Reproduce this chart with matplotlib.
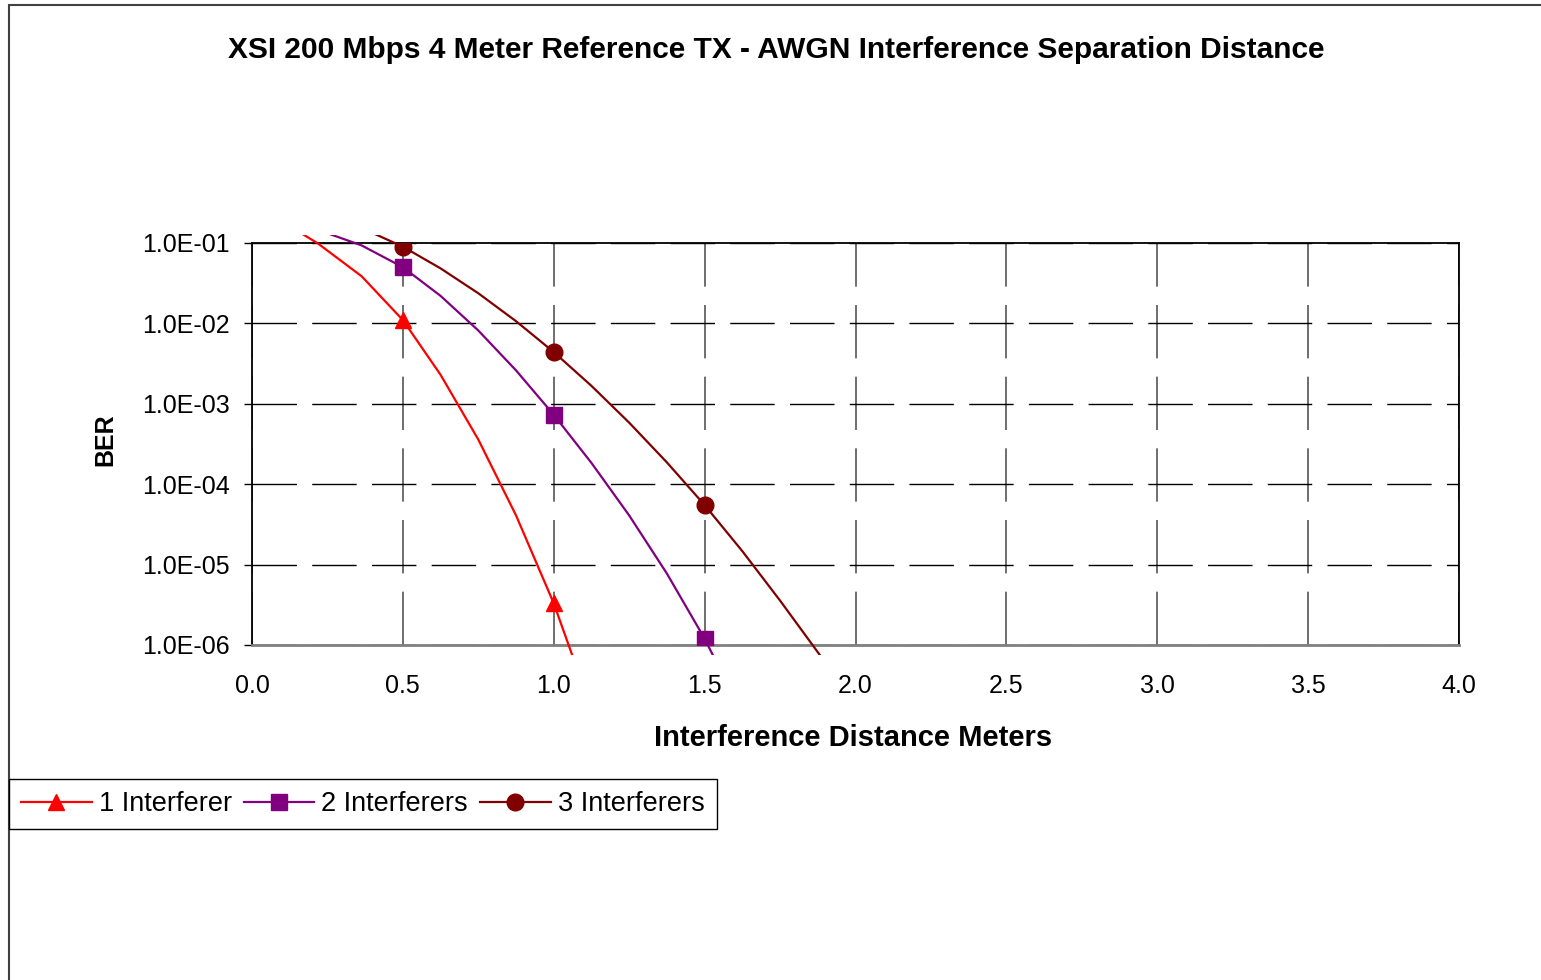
import numpy as np
import matplotlib
matplotlib.use("Agg")
import matplotlib.pyplot as plt
from matplotlib.patches import Rectangle
from matplotlib.lines import Line2D
from matplotlib.ticker import FixedLocator, FuncFormatter

# BER vs interferer separation distance
dist_1 = [0.0, 0.5, 1.0, 1.5]
ber_1 = [3.2e-1, 1.1e-2, 3.3e-6, 4.5e-12]

dist_2 = [0.0, 0.5, 1.0, 1.5, 2.0]
ber_2 = [2.5e-1, 5.0e-2, 7.3e-4, 1.2e-6, 1.0e-10]

dist_3 = [0.0, 0.5, 1.0, 1.5, 2.0, 2.5]
ber_3 = [4.4e-1, 9.0e-2, 4.4e-3, 5.5e-5, 1.8e-7, 3.0e-10]

series_labels = ["1 Interferer", "2 Interferers", "3 Interferers"]
x_ticks = [0.0, 0.5, 1.0, 1.5, 2.0, 2.5, 3.0, 3.5, 4.0]
y_ticks = [1e-6, 1e-5, 1e-4, 1e-3, 1e-2, 1e-1]

colors = ["#FF0000", "#800080", "#800000"]
markers = ["^", "s", "o"]

plt.rcParams['font.family'] = ['Liberation Sans', 'DejaVu Sans']


def excel_smooth(xs, ys, n=5):
    # Catmull-Rom through the points in (x, log y) space, like Excel's "smoothed line"
    lx = np.asarray(xs, float)
    ly = np.log10(np.asarray(ys, float))
    px = np.concatenate([[lx[0]], lx, [lx[-1]]])
    py = np.concatenate([[ly[0]], ly, [ly[-1]]])
    t = np.linspace(0, 1, n)
    ox, oy = [], []
    for i in range(1, len(px) - 2):
        for arr, out in ((px, ox), (py, oy)):
            p0, p1, p2, p3 = arr[i - 1:i + 3]
            v = 0.5 * (2 * p1 + (-p0 + p2) * t + (2 * p0 - 5 * p1 + 4 * p2 - p3) * t ** 2
                       + (-p0 + 3 * p1 - 3 * p2 + p3) * t ** 3)
            out.extend(v if i == 1 else v[1:])
    return np.array(ox), 10 ** np.array(oy)


fig = plt.figure(figsize=(15.41, 9.80), dpi=100, facecolor='w')
ax = fig.add_axes([252 / 1541, 1 - 645 / 980, 1207 / 1541, 402 / 980])

# line clip region a little larger than the plot area (Excel lets lines spill)
clip = Rectangle((0, -10 / 402), 1, 1 + 18 / 402, transform=ax.transAxes,
                 facecolor='none', edgecolor='none')
ax.add_patch(clip)

handles = []
for xs, ys, c, m, lab in zip([dist_1, dist_2, dist_3], [ber_1, ber_2, ber_3],
                             colors, markers, series_labels):
    sx, sy = excel_smooth(xs, ys)
    ln, = ax.plot(sx, sy, color=c, lw=1.6, zorder=3)
    ln.set_clip_path(clip)
    ax.plot(xs, ys, ls='none', marker=m, ms=12, color=c, mec=c, zorder=4)
    handles.append(Line2D([], [], color=c, lw=1.6, marker=m, ms=12, label=lab))

ax.set_yscale('log')
ax.set_xlim(0, 4.0)
ax.set_ylim(1e-6, 1e-1)
ax.xaxis.set_major_locator(FixedLocator(x_ticks))
ax.yaxis.set_major_locator(FixedLocator(y_ticks))
ax.yaxis.set_minor_locator(FixedLocator([]))
ax.xaxis.set_major_formatter(FuncFormatter(lambda v, p: f"{v:.1f}"))
ax.yaxis.set_major_formatter(FuncFormatter(lambda v, p: f"{v:.1E}"))
ax.tick_params(axis='x', length=0, pad=21, labelsize=18)
ax.tick_params(axis='y', length=6, width=1, direction='out', pad=10, labelsize=18)

ax.grid(True, axis='y', which='major', color='black', lw=1, ls=(0, (32, 11)))
ax.grid(True, axis='x', which='major', color='#555555', lw=1.2, ls=(0, (32, 11)))
ax.set_axisbelow(True)

for s in ('top', 'left', 'right'):
    ax.spines[s].set_color('black')
    ax.spines[s].set_linewidth(1.3)
ax.spines['bottom'].set_color('#808080')
ax.spines['bottom'].set_linewidth(2)

fig.text(776 / 1541, 1 - 50 / 980,
         "XSI 200 Mbps 4 Meter Reference TX - AWGN Interference Separation Distance",
         ha='center', va='center', fontsize=21.5, fontweight='bold')
fig.text(853 / 1541, 1 - 738 / 980, "Interference Distance Meters",
         ha='center', va='center', fontsize=21, fontweight='bold')
fig.text(105 / 1541, 1 - 440 / 980, "BER", ha='center', va='center',
         rotation=90, fontsize=18, fontweight='bold')

leg = fig.legend(handles=handles, loc='upper left', ncol=3,
                 bbox_to_anchor=(9 / 1541, 1 - 779 / 980), borderaxespad=0,
                 fontsize=19.5, handlelength=2.6, handletextpad=0.26, columnspacing=0.45,
                 frameon=True, fancybox=False, framealpha=1, borderpad=0.45)
leg.get_frame().set_edgecolor('black')
leg.get_frame().set_linewidth(1)

# chart area border
fig.patches.append(Rectangle((9 / 1541, -0.05), 1.1, 1 - 5.5 / 980 + 0.05,
                             transform=fig.transFigure, fill=False,
                             edgecolor='#404040', lw=1.5, zorder=0))

fig.savefig("out.png", dpi=100, facecolor='w')
